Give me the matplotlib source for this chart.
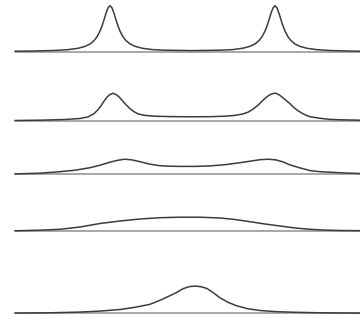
import matplotlib
matplotlib.use("Agg")
import matplotlib.pyplot as plt

# five stacked traces, heights above each trace's own baseline
x1 = [15, 35, 55, 68, 78, 85, 90, 94, 97, 100, 102, 104, 106, 108, 110, 112, 114, 116, 118,
      120, 123, 126, 130, 135, 142, 152, 165, 192, 220, 233, 243, 250, 255, 259, 262, 265,
      267, 269, 271, 273, 275, 277, 279, 281, 283, 285, 288, 291, 295, 300, 307, 317, 330,
      350, 360]
y1 = [0.45, 0.7, 1.25, 2.05, 3.4, 5.3, 7.7, 11.1, 14.9, 20.6, 25.7, 31.8, 38.4, 43.8, 46,
      43.8, 38.4, 31.8, 25.7, 20.6, 14.9, 11.1, 7.8, 5.4, 3.5, 2.1, 1.5, 1.1, 1.5, 2.1, 3.5,
      5.4, 7.8, 11.1, 14.9, 20.6, 25.7, 31.8, 38.4, 43.8, 46, 43.8, 38.4, 31.8, 25.7, 20.6,
      14.9, 11.1, 7.7, 5.3, 3.4, 2.0, 1.2, 0.65, 0.5]

x2 = [15, 45, 65, 80, 88, 94, 98, 101, 104, 107, 110, 113, 116, 119, 122, 126, 130, 134,
      138, 145, 155, 170, 190, 210, 225, 235, 243, 248, 253, 258, 263, 267, 271, 275, 278,
      281, 284, 287, 290, 294, 298, 302, 306, 310, 320, 330, 345, 360]
y2 = [0.2, 0.6, 1.2, 2.2, 3.8, 7, 11, 15, 19.5, 23.5, 26.3, 27.4, 26.3, 23.8, 20.5, 16, 12,
      9, 6.8, 5.3, 4.5, 4.1, 3.9, 4.0, 4.5, 5.3, 6.8, 8.5, 11.5, 15.5, 20.5, 24, 26.5, 27.6,
      26.5, 24.5, 22, 19.5, 17, 13, 10, 7.5, 5.5, 4, 2.4, 1.3, 0.8, 0.5]

x3 = [15, 40, 60, 75, 90, 100, 110, 118, 125, 132, 140, 150, 160, 170, 180, 195, 210, 225,
      240, 250, 260, 268, 276, 283, 290, 300, 310, 320, 330, 345, 360]
y3 = [0.3, 1, 2.5, 4, 6.5, 9, 12, 14, 15, 14.3, 12.5, 10, 8.5, 8, 7.8, 7.8, 8.3, 9.5, 11.5,
      13, 14.5, 15, 14.3, 12.3, 9.3, 6.3, 3.6, 2.5, 2, 1.2, 0.7]

x4 = [15, 40, 60, 80, 100, 120, 140, 160, 180, 200, 220, 235, 250, 265, 280, 295, 310, 325,
      340, 360]
y4 = [0.2, 0.8, 1.7, 4, 7.5, 10, 12, 13.3, 13.8, 13.8, 13, 11.5, 9.3, 7, 5, 3, 1.7, 0.9,
      0.5, 0.3]

x5 = [15, 50, 80, 100, 120, 135, 150, 160, 170, 177, 183, 189, 195, 201, 207, 213, 220, 228,
      237, 248, 260, 275, 295, 320, 340, 360]
y5 = [0.2, 0.5, 1.2, 2.2, 3.8, 6, 9, 13, 17.6, 21, 24.6, 26.6, 27.3, 26.6, 24.8, 20.8, 15.5,
      11, 7.4, 4.5, 2.8, 1.7, 1, 0.5, 0.3, 0.2]

traces = [(x1, y1), (x2, y2), (x3, y3), (x4, y4), (x5, y5)]
baselines = [51.7, 120.7, 174.2, 231, 313.3]

fig = plt.figure(figsize=(3.6, 3.2), dpi=100)
ax = fig.add_axes([0, 0, 1, 1])

for (xs, ys), b in zip(traces, baselines):
    ax.plot([15, 360], [b, b], color='#a0a0a0', lw=1.3, solid_capstyle='butt')
    ax.plot(xs, [b - v for v in ys], color='#3c3c3c', lw=1.1)

ax.set_xlim(0, 360)
ax.set_ylim(320, 0)
ax.axis('off')

fig.savefig('out.png', dpi=100, facecolor='white')
